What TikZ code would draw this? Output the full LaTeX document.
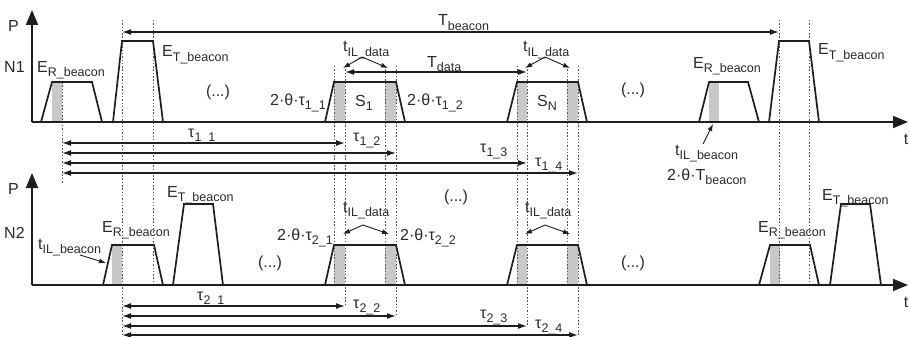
\documentclass[tikz,border=0pt]{standalone}
\usepackage{fontspec}
\setmainfont{Liberation Sans}
\usetikzlibrary{arrows.meta}
\definecolor{ink}{HTML}{1E1E1E}
\definecolor{txt}{HTML}{2A2A2A}
\definecolor{shade}{HTML}{C8C8C8}
\definecolor{dotc}{HTML}{555555}
\newcommand\subx[1]{\raisebox{-4.5pt}{\fontsize{12.5}{14}\selectfont #1}}
\begin{document}
\begin{tikzpicture}[x=1pt,y=-1pt,line join=round,
  pulse/.style={draw=ink,line width=1.7pt,line join=miter},
  axis/.style={draw=ink,line width=1.8pt,-{Triangle[length=15pt,width=12pt]}},
  guide/.style={draw=dotc,line width=0.9pt,dash pattern=on 1.5pt off 1.8pt},
  dim/.style={draw=ink,line width=1.4pt,{Latex[length=9pt,width=6pt]}-{Latex[length=9pt,width=6pt]}},
  shadebox/.style={fill=shade,draw=none},
  lbl/.style={text=txt,inner sep=0pt,anchor=base west,font=\fontsize{16}{18}\selectfont},
  clbl/.style={text=txt,inner sep=0pt,font=\fontsize{16}{18}\selectfont},
  ptr/.style={draw=ink,line width=0.9pt,-{Latex[length=7pt,width=5pt]}}]
\useasboundingbox (0,0) rectangle (910,337);

% ---------- shading ----------
\foreach \a/\b/\t/\y in {52/62/82/122, 334/345/82/122, 385/396/82/122, 517/527/82/122, 567/578/82/122, 709/719/82/122,
                         112/122/245/285, 334/345/245/285, 385/396/245/285, 517/527/245/285, 567/578/245/285, 770/780/245/285}
  \fill[shadebox] (\a,\t) rectangle (\b,\y);

% ---------- guides ----------
\draw[guide] (62,82) -- (62,183);
\draw[guide] (122,20) -- (122,337);
\draw[guide] (153,20) -- (153,285);
\foreach \x in {334,385,517,567} \draw[guide] (\x,66) -- (\x,285);
\draw[guide] (345,66) -- (345,306);
\draw[guide] (396,66) -- (396,316);
\draw[guide] (527,66) -- (527,326);
\draw[guide] (578,66) -- (578,336);
\draw[guide] (779,20) -- (779,285);
\draw[guide] (809,20) -- (809,285);

% ---------- axes ----------
\coordinate (o1) at (32,122);
\coordinate (p1) at (32,10);
\coordinate (t1) at (908,122);
\coordinate (o2) at (32,285);
\coordinate (p2) at (32,173);
\coordinate (t2) at (908,285);
\draw[axis] (o1) -- (p1);
\draw[axis] (o1) -- (t1);
\draw[axis] (o2) -- (p2);
\draw[axis] (o2) -- (t2);

% ---------- pulses N1 ----------
\draw[pulse] (41,122) -- (52,82) -- (92,82) -- (102,122);
\draw[pulse] (113,122) -- (122,41) -- (153,41) -- (163,122);
\draw[pulse] (325,122) -- (334,82) -- (396,82) -- (405,122);
\draw[pulse] (507,122) -- (517,82) -- (578,82) -- (587,122);
\draw[pulse] (699,122) -- (709,82) -- (748,82) -- (759,122);
\draw[pulse] (769,122) -- (779,41) -- (809,41) -- (819,122);

% ---------- pulses N2 ----------
\draw[pulse] (103,285) -- (112,245) -- (154,245) -- (163,285);
\draw[pulse] (173,285) -- (184,204) -- (213,204) -- (223,285);
\draw[pulse] (325,285) -- (334,245) -- (396,245) -- (405,285);
\draw[pulse] (507,285) -- (517,245) -- (578,245) -- (587,285);
\draw[pulse] (759,285) -- (770,245) -- (810,245) -- (819,285);
\draw[pulse] (830,285) -- (841,204) -- (870,204) -- (881,285);

% ---------- dimension arrows ----------
\coordinate (tbL) at (122,32); \coordinate (tbR) at (779,32);
\draw[dim] (tbL) -- (tbR);
\coordinate (tdL) at (345,72); \coordinate (tdR) at (527,72);
\draw[dim] (tdL) -- (tdR);
\foreach \y/\e in {143/345, 153/396, 163/527, 173/578}
  \draw[dim] (62,\y) -- (\e,\y);
\foreach \y/\e in {306/345, 316/396, 326/527, 335/578}
  \draw[dim] (122,\y) -- (\e,\y);

% ---------- t_IL_data pointers ----------
\foreach \px/\py/\lx/\rx/\ty in {362/57/343/388/68, 545/57/525/570/68, 363/225/343/389/234, 545/225/525/570/234}{
  \draw[ptr] (\px,\py) -- (\lx,\ty);
  \draw[ptr] (\px,\py) -- (\rx,\ty);
}
% t_IL_beacon pointers
\draw[ptr] (703,144) -- (713,124);
\draw[ptr] (80,255) -- (106,263);

% ---------- labels N1 ----------
\node[lbl] (P1) at (8,32) {P};
\node[lbl] (N1) at (4,73) {N1};
\node[clbl] (tt1) at (906,139) {t};
\node[lbl] (erb1) at (37,72) {E\subx{R\_beacon}};
\node[lbl] (etb1) at (162,57) {E\subx{T\_beacon}};
\node[lbl] (tbc) at (438,26) {T\subx{beacon}};
\node[lbl] (til1) at (343,52) {t\subx{IL\_data}};
\node[lbl] (til2) at (523,52) {t\subx{IL\_data}};
\node[lbl] (tdat) at (427,67) {T\subx{data}};
\node[lbl] (th11) at (270,105) {2·θ·τ\subx{1\_1}};
\node[lbl] (s1) at (355,106) {S\subx{1}};
\node[lbl] (th12) at (407,105) {2·θ·τ\subx{1\_2}};
\node[lbl] (sn) at (537,106) {S\subx{N}};
\node[clbl] (dd1) at (218,92) {(...)};
\node[clbl] (dd2) at (633,90) {(...)};
\node[lbl] (erb2) at (693,68) {E\subx{R\_beacon}};
\node[lbl] (etb2) at (818,55) {E\subx{T\_beacon}};
\node[lbl] (tilb1) at (675,155) {t\subx{IL\_beacon}};
\node[lbl] (thb) at (667,180) {2·θ·T\subx{beacon}};
\node[lbl] (tau11) at (188,137) {τ\subx{1\_1}};
\node[lbl] (tau12) at (353,141) {τ\subx{1\_2}};
\node[lbl] (tau13) at (480,152) {τ\subx{1\_3}};
\node[lbl] (tau14) at (535,166) {τ\subx{1\_4}};

% ---------- labels N2 ----------
\node[lbl] (P2) at (8,194) {P};
\node[lbl] (N2) at (4,238) {N2};
\node[clbl] (tt2) at (906,302) {t};
\node[lbl] (erb3) at (102,232) {E\subx{R\_beacon}};
\node[lbl] (tilb2) at (38,249) {t\subx{IL\_beacon}};
\node[lbl] (etb3) at (167,197) {E\subx{T\_beacon}};
\node[clbl] (dd3) at (270,263) {(...)};
\node[lbl] (til3) at (343,212) {t\subx{IL\_data}};
\node[lbl] (til4) at (525,212) {t\subx{IL\_data}};
\node[lbl,anchor=base east] (th21) at (333,240) {2·θ·τ\subx{2\_1}};
\node[lbl] (th22) at (400,240) {2·θ·τ\subx{2\_2}};
\node[clbl] (dd4) at (456,197) {(...)};
\node[lbl] (erb4) at (758,232) {E\subx{R\_beacon}};
\node[lbl] (etb4) at (822,200) {E\subx{T\_beacon}};
\node[clbl] (dd5) at (633,263) {(...)};
\node[lbl] (tau21) at (197,300) {τ\subx{2\_1}};
\node[lbl] (tau22) at (353,308) {τ\subx{2\_2}};
\node[lbl] (tau23) at (480,318) {τ\subx{2\_3}};
\node[lbl] (tau24) at (535,328) {τ\subx{2\_4}};
\end{tikzpicture}
\end{document}
